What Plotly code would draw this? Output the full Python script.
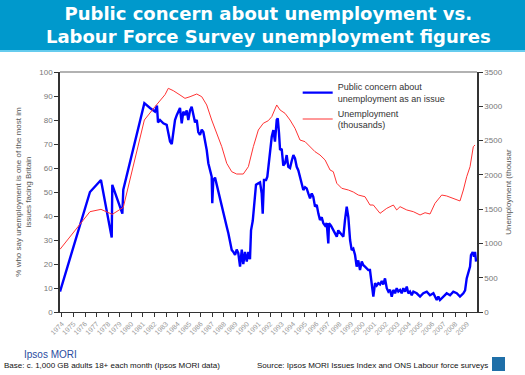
import plotly.graph_objects as go

# Public concern (% naming unemployment) - decimal year, value
concern_year = [1973.83, 1976.42, 1977.37, 1978.30, 1978.35, 1979.22, 1979.30, 1981.12, 1981.61, 1982.04,
                1982.21, 1982.30, 1982.47, 1982.76, 1983.05, 1983.34, 1983.49, 1983.62, 1983.77, 1983.92,
                1984.06, 1984.20, 1984.35, 1984.49, 1984.63, 1984.78, 1984.92, 1985.07, 1985.21, 1985.35,
                1985.50, 1985.65, 1985.78, 1985.93, 1986.08, 1986.22, 1986.36, 1986.51, 1986.65, 1986.80,
                1986.94, 1986.99, 1987.08, 1987.23, 1987.37, 1987.51, 1987.66, 1987.81, 1987.95, 1988.09,
                1988.24, 1988.38, 1988.52, 1988.67, 1988.81, 1988.96, 1989.10, 1989.24, 1989.39, 1989.54,
                1989.67, 1989.82, 1989.97, 1990.11, 1990.25, 1990.34, 1990.49, 1990.62, 1990.77, 1990.97,
                1991.12, 1991.26, 1991.35, 1991.46, 1991.64, 1991.75, 1991.92, 1992.13, 1992.27, 1992.41,
                1992.56, 1992.65, 1992.76, 1992.85, 1992.99, 1993.13, 1993.28, 1993.42, 1993.56, 1993.71,
                1993.86, 1994.00, 1994.14, 1994.29, 1994.43, 1994.57, 1994.72, 1994.86, 1995.01, 1995.15,
                1995.29, 1995.44, 1995.59, 1995.72, 1995.87, 1996.02, 1996.16, 1996.30, 1996.45, 1996.59,
                1996.74, 1996.88, 1997.02, 1997.08, 1997.25, 1997.45, 1997.60, 1997.75, 1997.88, 1998.03,
                1998.18, 1998.32, 1998.46, 1998.61, 1998.75, 1998.90, 1999.04, 1999.18, 1999.33, 1999.47,
                1999.61, 1999.76, 1999.91, 2000.05, 2000.19, 2000.34, 2000.48, 2000.62, 2000.77, 2000.91,
                2001.06, 2001.20, 2001.34, 2001.49, 2001.64, 2001.77, 2001.92, 2002.07, 2002.21, 2002.35,
                2002.50, 2002.64, 2002.79, 2002.93, 2003.07, 2003.22, 2003.36, 2003.50, 2003.65, 2003.80,
                2003.93, 2004.08, 2004.23, 2004.37, 2004.66, 2004.95, 2005.23, 2005.53, 2005.81, 2006.10,
                2006.39, 2006.53, 2006.67, 2006.82, 2006.96, 2007.25, 2007.54, 2007.82, 2008.12, 2008.40,
                2008.69, 2008.84, 2008.98, 2009.12, 2009.27, 2009.35, 2009.50, 2009.61, 2009.70, 2009.79]
concern_pct = [8.5, 50, 55, 31, 53, 41, 51, 87, 85, 83.5,
               86, 79, 80, 78.6, 78, 71, 70, 74.6, 80, 82,
               83.5, 85, 78.6, 83.5, 82, 84, 80, 84, 85.5, 82,
               79, 80, 75, 73.75, 76, 75, 71.7, 67.5, 62, 59,
               56.4, 45.3, 55, 56, 53, 51, 48, 43.9, 41, 38.5,
               35.5, 32.8, 30, 25.8, 25, 23.75, 26, 24.5, 18.9, 26,
               20, 25, 21, 25, 22, 34, 38, 45, 53, 53.6,
               54, 49.5, 41, 55, 55, 56.4, 63.3, 73, 75.8, 71,
               80, 80.7, 74.4, 67.5, 68, 61, 62, 65.4, 60.5, 60,
               63, 65.4, 64, 60.5, 59, 56.4, 53, 50.8, 52, 51.5,
               49.4, 47.4, 49.4, 48, 43.9, 44.6, 41, 38.3, 39.5, 37,
               36, 37, 28.6, 37, 36, 34, 33, 31.4, 34, 33,
               32.5, 31.4, 38.3, 43.9, 39.5, 30, 25.8, 26.4, 23.75, 18.9,
               21.5, 17.5, 21, 19.5, 18.9, 18.2, 17.5, 17.5, 12, 6.4,
               12, 11, 12, 11.5, 12.9, 11.5, 14, 9.9, 8.5, 9.2,
               6.4, 9.2, 7.8, 9.9, 8.5, 9.2, 7.8, 9.9, 8.5, 10.6,
               7.8, 8.5, 7, 8.5, 7.8, 6.4, 7.8, 8.5, 7, 7.8,
               5, 6.4, 5, 5.7, 6.4, 7.8, 7, 8.5, 7.8, 6.4,
               7.8, 9, 14, 16, 18.9, 23.75, 25, 23, 25, 21]

# Labour Force Survey unemployment (thousands)
unemp_year = [1973.83, 1976.42, 1977.37, 1978.35, 1979.30, 1981.12, 1982.04, 1982.47, 1982.91, 1983.19,
              1983.62, 1984.20, 1984.63, 1985.07, 1985.65, 1986.08, 1986.51, 1986.94, 1987.37, 1987.81,
              1988.24, 1988.67, 1989.10, 1989.67, 1990.11, 1990.54, 1990.97, 1991.40, 1991.83, 1992.13,
              1992.56, 1992.85, 1993.28, 1993.71, 1994.14, 1994.57, 1995.01, 1995.44, 1995.87, 1996.30,
              1996.74, 1997.17, 1997.45, 1997.75, 1998.18, 1998.75, 1999.18, 1999.61, 2000.19, 2000.62,
              2000.91, 2001.49, 2002.07, 2002.64, 2002.93, 2003.22, 2003.80, 2004.37, 2004.95, 2005.38,
              2005.81, 2006.24, 2006.82, 2007.25, 2007.82, 2008.40, 2008.69, 2008.98, 2009.27, 2009.55,
              2009.70]
unemp_k = [914, 1463, 1497, 1424, 1526, 2800, 2994, 3080, 3170, 3262,
           3228, 3165, 3116, 3140, 3179, 3140, 3019, 2800, 2606, 2411,
           2168, 2046, 2012, 2012, 2119, 2411, 2654, 2752, 2790, 2848,
           3019, 2946, 2897, 2800, 2679, 2508, 2484, 2411, 2338, 2290,
           2217, 2071, 2046, 1877, 1804, 1779, 1750, 1706, 1681, 1560,
           1560, 1439, 1512, 1560, 1488, 1536, 1488, 1463, 1415, 1448,
           1429, 1585, 1706, 1692, 1658, 1619, 1779, 1973, 2119, 2411,
           2435]

tick_years = list(range(1974, 2010))
tick_labels = [str(y) for y in tick_years]

fig = go.Figure()
fig.add_trace(go.Scatter(x=concern_year, y=concern_pct, mode="lines",
                         name="Public concern about<br>unemployment as an issue",
                         line=dict(color="#0000FF", width=2.4)))
fig.add_trace(go.Scatter(x=unemp_year, y=unemp_k, mode="lines", yaxis="y2",
                         name="Unemployment<br>(thousands)",
                         line=dict(color="#FF3333", width=1)))

FONT = "Arial, Liberation Sans, sans-serif"
axfont = dict(family=FONT, size=8, color="#777777")

fig.update_layout(
    width=525, height=375,
    margin=dict(l=60, r=48, t=72, b=63, autoexpand=False),
    paper_bgcolor="white", plot_bgcolor="white",
    showlegend=True,
    legend=dict(x=0.57, y=0.99, xanchor="left", yanchor="top", bgcolor="rgba(0,0,0,0)",
                font=dict(family=FONT, size=9, color="#333333"),
                tracegroupgap=2, itemwidth=30),
    xaxis=dict(range=[1973.83, 2009.87], tickmode="array", tickvals=tick_years, ticktext=tick_labels,
               tickangle=-45, tickfont=dict(family=FONT, size=7, color="#999999"), automargin=False,
               showgrid=False, zeroline=False, showline=True, linecolor="#333333", linewidth=1,
               ticks="outside", ticklen=4, tickcolor="#333333", mirror=False),
    yaxis=dict(range=[0, 100], dtick=10, showgrid=False, zeroline=False, showline=True, automargin=False,
               linecolor="#333333", linewidth=1.5, ticks="outside", ticklen=4, tickcolor="#333333",
               tickfont=axfont,
               title=dict(text="% who say unemployment is one of the most im<br>issues facing Britain",
                          font=dict(family=FONT, size=8, color="#555555"), standoff=6)),
    yaxis2=dict(range=[0, 3500], dtick=500, overlaying="y", side="right", showgrid=False, automargin=False,
                zeroline=False, showline=True, linecolor="#333333", linewidth=1.5, ticks="outside",
                ticklen=4, tickcolor="#333333", tickfont=axfont,
                title=dict(text="Unemployment (thousar",
                           font=dict(family=FONT, size=8, color="#555555"), standoff=4)),
)

# Plot top border
fig.add_shape(type="line", xref="paper", yref="paper", x0=0, x1=1, y0=1, y1=1,
              line=dict(color="#999999", width=1.5))

# Title banner
fig.add_shape(type="rect", xref="paper", yref="paper", x0=-0.2, x1=1.2, y0=1.0 + 22/240, y1=1.0 + 72/240,
              fillcolor="#0099CC", line=dict(width=0), layer="below")
fig.add_shape(type="rect", xref="paper", yref="paper", x0=-0.2, x1=1.2, y0=1.0 + 20/240, y1=1.0 + 22/240,
              fillcolor="#66CCEE", line=dict(width=0), layer="below")
fig.add_annotation(text="<b>Public concern about unemployment vs.<br>Labour Force Survey unemployment figures</b>",
                   xref="paper", yref="paper", x=0.5, y=1.0 + 47/240, xanchor="center", yanchor="middle",
                   showarrow=False, font=dict(family="Arial Black, DejaVu Sans, sans-serif", size=18, color="white"),
                   align="center")

# Footer
fig.add_annotation(text="Ipsos MORI", xref="paper", yref="paper", x=-38/417, y=-42/240,
                   xanchor="left", yanchor="middle", showarrow=False,
                   font=dict(family=FONT, size=10, color="#2A4BA0"))
fig.add_annotation(text="Base: c. 1,000 GB adults 18+ each month (Ipsos MORI data)", xref="paper", yref="paper",
                   x=-58/417, y=-53/240, xanchor="left", yanchor="middle", showarrow=False,
                   font=dict(family=FONT, size=8, color="#111111"))
fig.add_annotation(text="Source: Ipsos MORI Issues Index and ONS Labour force surveys", xref="paper", yref="paper",
                   x=430/417, y=-53/240, xanchor="right", yanchor="middle", showarrow=False,
                   font=dict(family=FONT, size=8, color="#111111"))
fig.add_shape(type="rect", xref="paper", yref="paper", x0=432/417, x1=445/417, y0=-59/240, y1=-45/240,
              fillcolor="#1F6FA8", line=dict(width=0))

fig.write_html("out.html", config={"displayModeBar": False},
               post_script="document.body.style.margin='0';")
